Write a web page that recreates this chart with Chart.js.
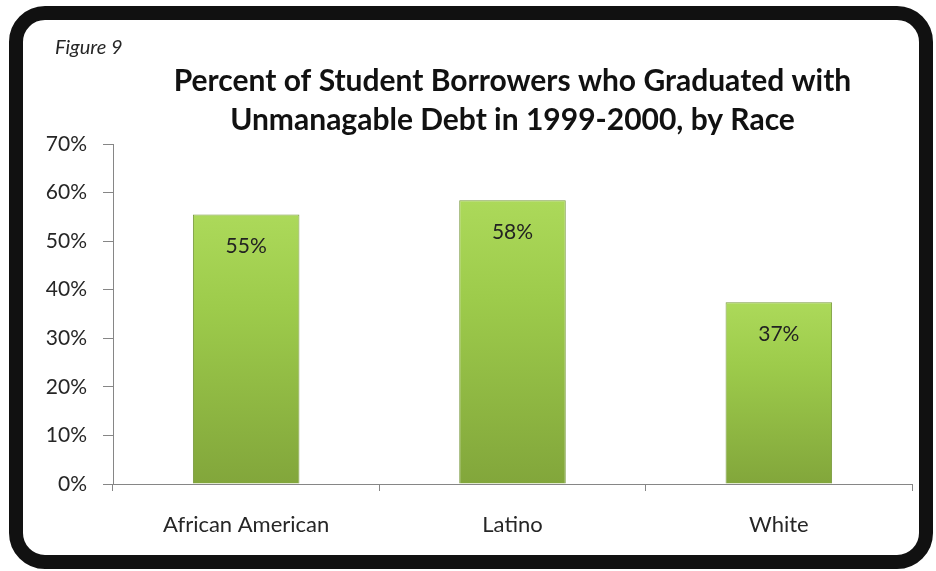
<!DOCTYPE html>
<html>
<head>
<meta charset="utf-8">
<script src="https://cdn.jsdelivr.net/npm/chart.js@4.4.1/dist/chart.umd.min.js"></script>
<style>
html, body { margin: 0; padding: 0; background: #fff; }
#wrap { position: relative; width: 936px; height: 571px; overflow: hidden; }
#frame { position: absolute; left: 9px; top: 6px; width: 924px; height: 563px; box-sizing: border-box;
         border: 14px solid #111; border-radius: 36px; background: #fff; }
canvas { position: absolute; left: 0; top: 0; }
</style>
</head>
<body>
<div id="wrap">
  <div id="frame"></div>
  <canvas id="barChart" width="936" height="571"></canvas>
</div>
<script>
// chart data
var categories = ['African American', 'Latino', 'White'];
var percents = [55.5, 58.4, 37.4];
var barLabels = ['55%', '58%', '37%'];
var figureLabel = 'Figure 9';
var titleLines = ['Percent of Student Borrowers who Graduated with', 'Unmanagable Debt in 1999-2000, by Race'];

var axisGray = '#868686';
var textColor = '#262626';

// percent labels inside the bars + the "Figure 9" caption
var barLabelPlugin = {
    id: 'barLabelPlugin',
    afterDatasetsDraw: function (chart) {
        var ctx = chart.ctx;
        var meta = chart.getDatasetMeta(0);
        ctx.save();
        ctx.font = '21px Lato';
        ctx.fillStyle = '#222';
        ctx.textAlign = 'center';
        ctx.textBaseline = 'middle';
        meta.data.forEach(function (bar, i) {
            ctx.fillText(barLabels[i], bar.x, bar.y + 32);
        });
        ctx.font = 'italic 20px Lato';
        ctx.fillStyle = textColor;
        ctx.textAlign = 'left';
        ctx.fillText(figureLabel, 55, 48);
        ctx.restore();
    }
};

// vertical green gradient for each bar
function barFill(c) {
    var chart = c.chart;
    if (!chart.chartArea || !c.parsed) return '#98c94a';
    var top = chart.scales.y.getPixelForValue(c.parsed.y);
    var bottom = chart.scales.y.getPixelForValue(0);
    var g = chart.ctx.createLinearGradient(0, top, 0, bottom);
    g.addColorStop(0, '#acd95a');
    g.addColorStop(0.35, '#9dcb4b');
    g.addColorStop(1, '#82a63b');
    return g;
}

var ctx = document.getElementById('barChart').getContext('2d');
var barChart = new Chart(ctx, {
    type: 'bar',
    data: {
        labels: categories,
        datasets: [{
            data: percents,
            backgroundColor: barFill,
            borderColor: '#77983a',
            borderWidth: 1,
            barPercentage: 0.4,
            categoryPercentage: 1
        }]
    },
    options: {
        responsive: false,
        animation: false,
        layout: { padding: { left: 30, right: 24, top: 0, bottom: 0 } },
        plugins: {
            legend: { display: false },
            tooltip: { enabled: false },
            title: {
                display: true,
                fullSize: false,
                text: titleLines,
                color: '#111',
                font: { family: 'Lato', size: 30, weight: 'bold', lineHeight: 1.3 },
                padding: { top: 62, bottom: 4 }
            }
        },
        scales: {
            x: {
                grid: { drawOnChartArea: false, color: axisGray, tickLength: 7 },
                border: { color: axisGray, width: 1 },
                ticks: { color: textColor, padding: 21, font: { family: 'Lato', size: 22 } },
                afterFit: function (scale) { scale.height = 87; }
            },
            y: {
                min: 0,
                max: 70,
                grid: { drawOnChartArea: false, color: axisGray, tickLength: 10 },
                border: { color: axisGray, width: 1 },
                ticks: {
                    stepSize: 10,
                    color: textColor,
                    padding: 16,
                    font: { family: 'Lato', size: 21 },
                    callback: function (v) { return v + '%'; }
                },
                afterFit: function (scale) { scale.width = 83; }
            }
        }
    },
    plugins: [barLabelPlugin]
});
</script>
</body>
</html>
